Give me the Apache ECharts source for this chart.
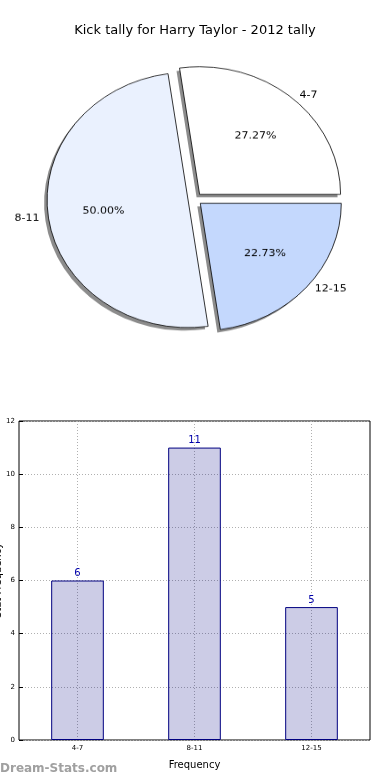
<!DOCTYPE html>
<html><head><meta charset="utf-8">
<script src="https://cdn.jsdelivr.net/npm/echarts@6/dist/echarts.min.js"></script>
<style>
html,body{margin:0;padding:0;background:#fff;}
#main{position:absolute;left:0;top:0;width:390px;height:780px;}
#pie{position:absolute;left:0;top:0;width:390px;height:430px;transform:scaleY(0.905);transform-origin:0 0;}
</style></head><body>
<div id="main"></div><div id="pie"></div>
<script>
const chartTitle = 'Kick tally for Harry Taylor - 2012 tally';
const categories = ['4-7', '8-11', '12-15'];
const counts = [6, 11, 5];
const pieColors = ['#ffffff', '#eaf1fe', '#c4d8fd'];
const xAxisName = 'Frequency';
const yAxisName = 'Stat Frequency';
const yMin = 0, yMax = 12, yStep = 2;
const watermark = 'Dream-Stats.com';
const FONT = 'DejaVu Sans';

const main = echarts.init(document.getElementById('main'), null, {renderer: 'canvas'});
main.setOption({
  animation: false,
  backgroundColor: '#fff',
  title: {text: chartTitle, left: 'center', top: 19,
    textStyle: {fontFamily: FONT, fontSize: 13, fontWeight: 'normal', color: '#000'}},
  grid: {left: 19, right: 20, top: 421, bottom: 40, containLabel: false, outerBoundsMode: 'none',
    show: true, borderColor: '#000', borderWidth: 1, backgroundColor: 'transparent'},
  xAxis: [{
    type: 'category', data: categories,
    axisLine: {show: false}, axisTick: {show: false},
    axisLabel: {fontSize: 7, margin: 5, color: '#000', fontFamily: FONT},
    splitLine: {show: false},
    name: xAxisName, nameLocation: 'middle', nameGap: 20, nameMoveOverlap: false,
    nameTextStyle: {fontSize: 10, color: '#000', fontFamily: FONT}
  }, {
    type: 'category', data: ['', '', '', '', '', '', ''], boundaryGap: false, position: 'bottom',
    axisLine: {show: false}, axisTick: {show: false}, axisLabel: {show: false},
    splitLine: {show: true, interval: function (i) { return i % 2 === 1; },
      lineStyle: {color: '#b0b0b0', type: [1, 2], width: 1}}
  }],
  yAxis: {
    type: 'value', min: yMin, max: yMax, interval: yStep,
    axisLine: {show: false},
    axisTick: {show: true, inside: true, length: 4, lineStyle: {color: '#000'}},
    axisLabel: {fontSize: 7, margin: 4, color: '#000', fontFamily: FONT},
    splitLine: {show: true, lineStyle: {color: '#b0b0b0', type: [1, 2], width: 1}},
    name: yAxisName, nameLocation: 'middle', nameGap: 16, nameRotate: 90, nameMoveOverlap: false,
    nameTextStyle: {fontSize: 10, color: '#000', fontFamily: FONT}
  },
  series: [{
    type: 'bar', data: counts, barWidth: '45%', xAxisIndex: 0,
    itemStyle: {color: 'rgba(0,0,128,0.2)', borderColor: '#000080', borderWidth: 1},
    label: {show: true, position: 'top', distance: 2, color: '#0000aa', fontSize: 10, fontFamily: FONT},
    silent: true
  }],
  graphic: [{
    type: 'text', left: 0, top: 763,
    style: {text: watermark, fill: '#a0a0a0', font: 'bold 12px "DejaVu Sans"'}
  }]
});

const pie = echarts.init(document.getElementById('pie'), null, {renderer: 'canvas'});
const pieCenter = [195, 220];
const shadowCenter = [192, 223.3];
const pieR = 141;
const pieData = categories.map((c, i) => ({name: c, value: counts[i], selected: true, itemStyle: {color: pieColors[i]}}));
const common = {type: 'pie', startAngle: 0, clockwise: false, selectedMode: 'multiple', selectedOffset: 7,
  avoidLabelOverlap: false, silent: true, emphasis: {disabled: true}};
pie.setOption({
  animation: false,
  series: [Object.assign({}, common, {
    center: shadowCenter, radius: [0, pieR], z: 1,
    data: pieData.map(d => ({name: d.name, value: d.value, selected: true})),
    itemStyle: {color: 'rgba(0,0,0,0.45)', borderWidth: 0},
    label: {show: false}, labelLine: {show: false}
  }), Object.assign({}, common, {
    center: pieCenter, radius: [0, pieR], z: 2,
    data: pieData,
    itemStyle: {borderColor: '#000', borderWidth: 0.8},
    label: {show: true, position: 'outside', formatter: '{b}', fontSize: 11, color: '#000', fontFamily: FONT},
    labelLine: {show: false, length: 4, length2: 0}
  }), Object.assign({}, common, {
    center: pieCenter, radius: [0, pieR * 1.17], z: 3,
    data: pieData.map(d => ({name: d.name, value: d.value, selected: true})),
    itemStyle: {color: 'rgba(0,0,0,0)', borderWidth: 0},
    label: {show: true, position: 'inside', formatter: p => p.percent.toFixed(2) + '%', fontSize: 11, color: '#000', fontFamily: FONT},
    labelLine: {show: false}
  })]
});
</script>
</body></html>
